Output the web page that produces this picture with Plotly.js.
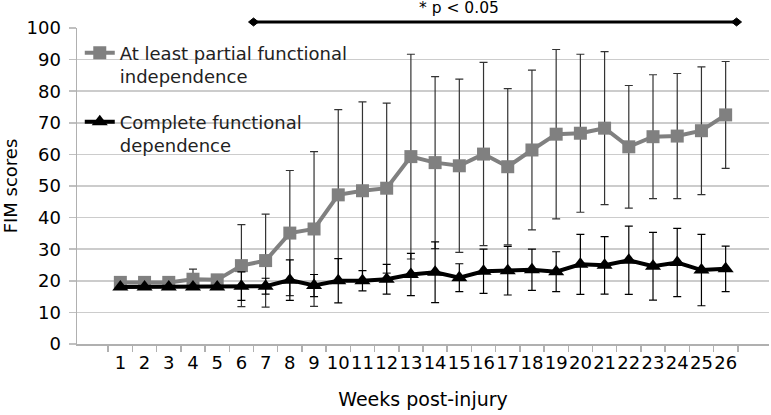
<!DOCTYPE html>
<html>
<head>
<meta charset="utf-8">
<script src="https://cdn.plot.ly/plotly-3.0.1.min.js"></script>
<style>html,body{margin:0;padding:0;background:#fff;}#chart{width:771px;height:415px;}</style>
</head>
<body>
<div id="chart"></div>
<script>
var weeks = ['1','2','3','4','5','6','7','8','9','10','11','12','13','14','15','16','17','18','19','20','21','22','23','24','25','26'];
var partialName = 'At least partial functional<br>independence';
var partialMean = [19.5,19.5,19.5,20.5,20.3,24.8,26.4,35.1,36.4,47.2,48.5,49.3,59.3,57.4,56.4,60.1,56.1,61.4,66.4,66.7,68.3,62.4,65.6,65.8,67.5,72.5];
var partialSD   = [0,0,0,3.2,0.5,13,14.7,19.8,24.5,27,28.1,26.9,32.4,27.2,27.4,29,24.7,25.3,26.8,25,24.2,19.4,19.6,19.8,20.2,16.9];
var depName = 'Complete functional<br>dependence';
var depMean = [18,18,18,18,18,18.3,18.3,20.2,18.5,20,20,20.5,22,22.7,21,23,23.2,23.5,22.9,25.2,24.9,26.5,24.6,25.8,23.4,23.8];
var depSD   = [0,0,0,0,0,4.5,2.5,6.4,3.5,7,3.2,4.7,6.7,9.6,4.4,7,7.7,6.5,6.3,9.5,9.1,10.8,10.7,10.8,11.3,7.2];
var sigLabel = '* p < 0.05';
var sigStart = 5.5;   // boundary between week 6 and week 7 (category index)
var sigEnd = 25.45;

var font = 'DejaVu Sans, Arial, sans-serif';

var traces = [
  {
    x: weeks, y: partialMean, name: partialName, legendgroup: 'a',
    type: 'scatter', mode: 'lines+markers',
    line: {color: '#808080', width: 4},
    marker: {symbol: 'square', size: 13, color: '#808080'},
    error_y: {type: 'data', array: partialSD, visible: true, color: '#333333', thickness: 1.2, width: 4}
  },
  {
    x: weeks, y: depMean, name: depName, legendgroup: 'b',
    type: 'scatter', mode: 'lines+markers',
    line: {color: '#000000', width: 4},
    marker: {symbol: 'triangle-up', size: 14, color: '#000000'},
    error_y: {type: 'data', array: depSD, visible: true, color: '#000000', thickness: 1.2, width: 4}
  }
];

var layout = {
  width: 771, height: 415,
  margin: {l: 77, r: 2, t: 28, b: 71},
  paper_bgcolor: '#ffffff', plot_bgcolor: '#ffffff',
  font: {family: font, size: 18, color: '#000000'},
  showlegend: true,
  legend: {
    x: 0.004, y: 0.979, xanchor: 'left', yanchor: 'top',
    bgcolor: 'rgba(0,0,0,0)', font: {family: font, size: 18, color: '#222'},
    valign: 'top', tracegroupgap: 19
  },
  xaxis: {
    type: 'category', tickson: 'boundaries', tickangle: 0,
    ticks: 'outside', ticklen: 6, tickcolor: '#b0b0b0', tickwidth: 1.5,
    showline: true, linecolor: '#b0b0b0', linewidth: 1.5,
    showgrid: false, zeroline: false, ticklabelstandoff: 2,
    tickfont: {family: font, size: 18, color: '#000'},
    title: {text: 'Weeks post-injury', font: {family: font, size: 19, color: '#000'}, standoff: 20}
  },
  yaxis: {
    range: [0, 100], dtick: 10, tick0: 0,
    ticks: 'outside', ticklen: 7, tickcolor: '#c0c0c0', tickwidth: 1.5,
    showline: true, linecolor: '#b0b0b0', linewidth: 1.5,
    showgrid: true, gridcolor: '#cccccc', gridwidth: 1.5, zeroline: false, ticklabelstandoff: 4,
    tickfont: {family: font, size: 18, color: '#000'},
    title: {text: 'FIM scores', font: {family: font, size: 18, color: '#000'}, standoff: 4}
  },
  shapes: [
    {type: 'line', xref: 'x', yref: 'paper', x0: sigStart, x1: sigEnd, y0: 1.019, y1: 1.019,
     line: {color: '#000', width: 3}},
    {type: 'path', xref: 'x', yref: 'paper', xsizemode: 'pixel', ysizemode: 'pixel',
     xanchor: sigStart, yanchor: 1.019, path: 'M-5,0 L0,4 L5,0 L0,-4 Z',
     fillcolor: '#000', line: {color: '#000', width: 1}},
    {type: 'path', xref: 'x', yref: 'paper', xsizemode: 'pixel', ysizemode: 'pixel',
     xanchor: sigEnd, yanchor: 1.019, path: 'M-5,0 L0,4 L5,0 L0,-4 Z',
     fillcolor: '#000', line: {color: '#000', width: 1}}
  ],
  annotations: [
    {text: sigLabel, xref: 'paper', yref: 'paper', x: 0.552, y: 1.062,
     xanchor: 'center', yanchor: 'middle', showarrow: false,
     font: {family: font, size: 15.5, color: '#000'}}
  ]
};

Plotly.newPlot('chart', traces, layout, {displayModeBar: false, staticPlot: true});
</script>
</body>
</html>
